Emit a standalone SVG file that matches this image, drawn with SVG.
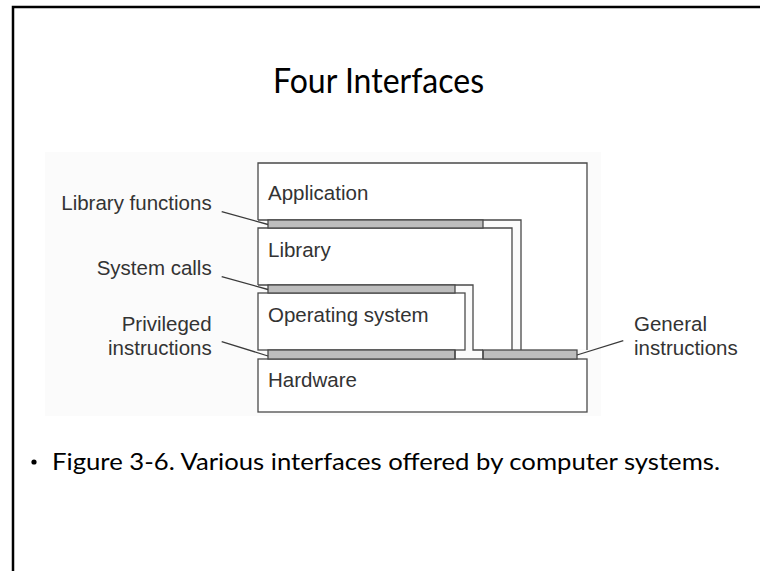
<svg xmlns="http://www.w3.org/2000/svg" width="760" height="571" viewBox="0 0 760 571">
  <style>
    .frame { fill: none; stroke: #000; stroke-width: 2.5; }
    .box { fill: none; stroke: #4a4a4a; stroke-width: 1.3; }
    .bar { fill: #bdbdbd; stroke: #4a4a4a; stroke-width: 1.3; }
    .lead { fill: none; stroke: #3a3a3a; stroke-width: 1.3; }
    .lbl { font-family: "Liberation Sans", Arial, sans-serif; font-size: 20.5px; fill: #333; }
    .title { font-family: Lato, "Open Sans", sans-serif; font-size: 35px; font-weight: 400; fill: #000; }
    .cap { font-family: Lato, "Open Sans", sans-serif; font-size: 24px; fill: #000; }
  </style>

  <rect width="760" height="571" fill="#fff"/>
  <!-- slide frame -->
  <path class="frame" d="M13,571 V7 H760"/>

  <text class="title" x="273" y="93" textLength="211" lengthAdjust="spacingAndGlyphs">Four Interfaces</text>

  <!-- figure backdrop -->
  <rect x="45" y="152" width="556" height="264" fill="#fbfbfb"/>

  <g id="application">
    <path d="M259,164 H586 V349 H522 V219 H259 Z" fill="#fff"/>
    <path class="box" d="M258,220 V163 H587 V350 M521,350 V220 H258"/>
    <text class="lbl" x="268" y="200">Application</text>
  </g>

  <g id="library">
    <path d="M258.7,228.7 H511.3 V349.3 H473.3 V285 H258.7 Z" fill="#fff"/>
    <path class="box" d="M258,285 V228 H512 V350 M483,350 H473 V285 H258"/>
    <text class="lbl" x="268" y="257">Library</text>
  </g>

  <g id="operating-system">
    <rect x="258" y="293" width="207" height="57" fill="#fff"/>
    <rect class="box" x="258" y="293" width="207" height="57"/>
    <text class="lbl" x="268" y="322">Operating system</text>
  </g>

  <g id="hardware">
    <rect x="258" y="359" width="329" height="53" fill="#fff"/>
    <rect class="box" x="258" y="359" width="329" height="53"/>
    <text class="lbl" x="268" y="387">Hardware</text>
  </g>

  <!-- interface bars -->
  <g id="interfaces">
    <rect class="bar" x="268" y="220" width="215" height="8"/>
    <rect class="bar" x="268" y="285" width="187" height="8"/>
    <rect class="bar" x="268" y="350" width="187" height="9"/>
    <rect class="bar" x="483" y="350" width="94" height="9"/>
    <path class="box" d="M455,350 V359 M483,350 V359"/>
  </g>

  <g id="connectors">
    <path class="lead" d="M221.7,211.7 L268,224.5"/>
    <path class="lead" d="M221.7,276.7 L268,289.5"/>
    <path class="lead" d="M221.7,341.7 L268,356"/>
    <path class="lead" d="M623.3,340.7 L577,355"/>
  </g>

  <g id="labels">
    <text class="lbl" x="211.7" y="210" text-anchor="end">Library functions</text>
    <text class="lbl" x="211.7" y="275" text-anchor="end">System calls</text>
    <text class="lbl" x="211.7" y="331" text-anchor="end">Privileged</text>
    <text class="lbl" x="211.7" y="355" text-anchor="end">instructions</text>
    <text class="lbl" x="634" y="331">General</text>
    <text class="lbl" x="634" y="355">instructions</text>
  </g>

  <circle cx="34" cy="462" r="2.6" fill="#000"/>
  <text class="cap" x="52" y="470" textLength="668" lengthAdjust="spacingAndGlyphs">Figure 3-6. Various interfaces offered by computer systems.</text>
</svg>
